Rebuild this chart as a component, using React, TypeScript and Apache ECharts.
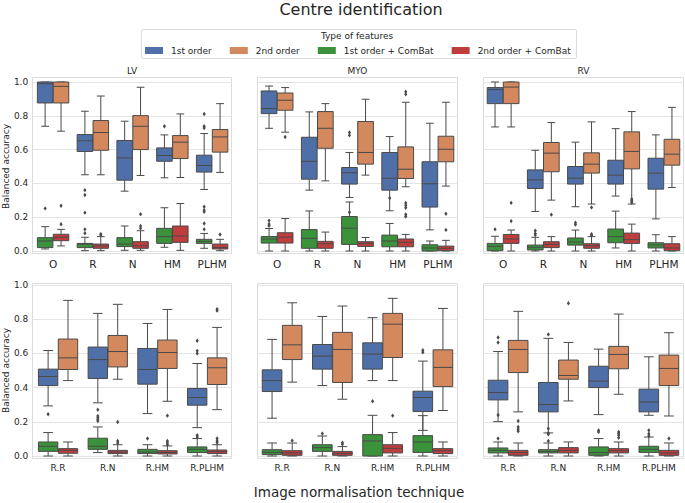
import React, { useEffect, useRef } from 'react';
import * as echarts from 'echarts';

// ---------- categories / labels ----------
const TOP_CATEGORIES = ['O', 'R', 'N', 'HM', 'PLHM'];
const BOTTOM_CATEGORIES = ['R.R', 'R.N', 'R.HM', 'R.PLHM'];
const PANEL_TITLES = ['LV', 'MYO', 'RV'];
const SERIES_NAMES = ['1st order', '2nd order', '1st order + ComBat', '2nd order + ComBat'];

// ---------- box stats: [min, q1, median, q3, max] per category ----------
// Top row – LV
const lvTop1st = [[0.738, 0.876, 0.99, 1.0, 1.0], [0.451, 0.589, 0.652, 0.689, 0.827], [0.354, 0.419, 0.551, 0.654, 0.768], [0.433, 0.531, 0.565, 0.61, 0.687], [0.364, 0.467, 0.506, 0.567, 0.695]];
const lvTop2nd = [[0.709, 0.876, 0.974, 1.0, 1.0], [0.451, 0.596, 0.701, 0.772, 0.917], [0.447, 0.6, 0.738, 0.801, 0.969], [0.435, 0.547, 0.644, 0.683, 0.811], [0.465, 0.585, 0.675, 0.719, 0.872]];
const lvTop1stCb = [[0.012, 0.02, 0.059, 0.079, 0.144], [0.002, 0.02, 0.04, 0.045, 0.081], [0.004, 0.026, 0.041, 0.079, 0.148], [0.022, 0.045, 0.085, 0.134, 0.256], [0.016, 0.045, 0.057, 0.069, 0.104]];
const lvTop2ndCb = [[0.03, 0.061, 0.081, 0.099, 0.128], [0.002, 0.016, 0.03, 0.041, 0.085], [0.004, 0.016, 0.031, 0.055, 0.12], [0.004, 0.051, 0.089, 0.148, 0.281], [0.002, 0.012, 0.02, 0.041, 0.069]];
// Top row – MYO
const myoTop1st = [[0.726, 0.813, 0.843, 0.947, 0.976], [0.36, 0.425, 0.531, 0.673, 0.823], [0.317, 0.396, 0.463, 0.494, 0.583], [0.238, 0.36, 0.431, 0.583, 0.677], [0.125, 0.26, 0.398, 0.528, 0.756]];
const myoTop2nd = [[0.703, 0.833, 0.892, 0.935, 0.967], [0.415, 0.608, 0.726, 0.825, 0.872], [0.449, 0.514, 0.583, 0.766, 0.898], [0.38, 0.429, 0.484, 0.616, 0.88], [0.384, 0.528, 0.602, 0.679, 0.88]];
const myoTop1stCb = [[0.0, 0.047, 0.071, 0.086, 0.133], [0.0, 0.016, 0.075, 0.127, 0.237], [0.0, 0.039, 0.135, 0.204, 0.29], [0.0, 0.025, 0.059, 0.094, 0.163], [0.0, 0.0, 0.018, 0.037, 0.059]];
const myoTop2ndCb = [[0.0, 0.047, 0.082, 0.108, 0.192], [0.0, 0.016, 0.043, 0.057, 0.112], [0.0, 0.027, 0.045, 0.055, 0.08], [0.0, 0.025, 0.051, 0.071, 0.098], [0.0, 0.002, 0.016, 0.029, 0.063]];
// Top row – RV
const rvTop1st = [[0.734, 0.872, 0.955, 0.967, 1.0], [0.234, 0.37, 0.421, 0.48, 0.596], [0.262, 0.396, 0.431, 0.5, 0.644], [0.325, 0.396, 0.449, 0.537, 0.724], [0.19, 0.366, 0.461, 0.549, 0.687]];
const rvTop2nd = [[0.734, 0.872, 0.97, 1.0, 1.0], [0.301, 0.469, 0.579, 0.642, 0.76], [0.278, 0.461, 0.514, 0.581, 0.764], [0.278, 0.486, 0.589, 0.705, 0.825], [0.376, 0.508, 0.573, 0.661, 0.85]];
const rvTop1stCb = [[0.0, 0.002, 0.028, 0.045, 0.087], [0.0, 0.006, 0.022, 0.035, 0.081], [0.0, 0.035, 0.053, 0.077, 0.124], [0.018, 0.049, 0.085, 0.13, 0.236], [0.0, 0.018, 0.035, 0.049, 0.096]];
const rvTop2ndCb = [[0.0, 0.045, 0.071, 0.098, 0.124], [0.0, 0.02, 0.039, 0.055, 0.085], [0.0, 0.016, 0.031, 0.043, 0.085], [0.0, 0.045, 0.067, 0.106, 0.159], [0.0, 0.002, 0.018, 0.043, 0.085]];
// Bottom row – LV
const lvBot1st = [[0.293, 0.412, 0.465, 0.508, 0.617], [0.311, 0.453, 0.564, 0.637, 0.834], [0.248, 0.42, 0.506, 0.629, 0.775], [0.166, 0.297, 0.342, 0.395, 0.541]];
const lvBot2nd = [[0.441, 0.506, 0.574, 0.684, 0.91], [0.449, 0.521, 0.611, 0.705, 0.887], [0.32, 0.512, 0.605, 0.678, 0.857], [0.271, 0.418, 0.516, 0.574, 0.752]];
const lvBot1stCb = [[0.0, 0.027, 0.057, 0.082, 0.137], [0.02, 0.039, 0.057, 0.104, 0.17], [0.0, 0.014, 0.023, 0.039, 0.066], [0.0, 0.02, 0.039, 0.053, 0.102]];
const lvBot2ndCb = [[0.0, 0.016, 0.033, 0.043, 0.082], [0.0, 0.014, 0.023, 0.033, 0.066], [0.0, 0.012, 0.021, 0.031, 0.059], [0.0, 0.014, 0.025, 0.035, 0.066]];
// Bottom row – MYO
const myoBot1st = [[0.221, 0.377, 0.441, 0.504, 0.682], [0.412, 0.508, 0.584, 0.652, 0.816], [0.441, 0.508, 0.596, 0.662, 0.809], [0.15, 0.26, 0.342, 0.379, 0.555]];
const myoBot2nd = [[0.432, 0.564, 0.65, 0.764, 0.896], [0.332, 0.43, 0.623, 0.723, 0.877], [0.441, 0.576, 0.771, 0.834, 0.922], [0.266, 0.406, 0.518, 0.621, 0.863]];
const myoBot1stCb = [[0.0, 0.008, 0.021, 0.037, 0.076], [0.0, 0.027, 0.049, 0.066, 0.117], [0.0, 0.0, 0.088, 0.125, 0.238], [0.0, 0.021, 0.082, 0.119, 0.236]];
const myoBot2ndCb = [[0.0, 0.004, 0.018, 0.031, 0.076], [0.0, 0.004, 0.016, 0.027, 0.055], [0.0, 0.018, 0.045, 0.066, 0.137], [0.0, 0.014, 0.031, 0.043, 0.082]];
// Bottom row – RV
const rvBot1st = [[0.201, 0.328, 0.371, 0.443, 0.611], [0.135, 0.258, 0.301, 0.43, 0.688], [0.242, 0.4, 0.438, 0.525, 0.625], [0.238, 0.258, 0.316, 0.391, 0.58]];
const rvBot2nd = [[0.258, 0.488, 0.623, 0.676, 0.846], [0.322, 0.449, 0.471, 0.561, 0.664], [0.361, 0.51, 0.594, 0.641, 0.83], [0.234, 0.412, 0.512, 0.59, 0.721]];
const rvBot1stCb = [[0.0, 0.018, 0.033, 0.047, 0.082], [0.0, 0.018, 0.027, 0.037, 0.076], [0.0, 0.004, 0.02, 0.053, 0.102], [0.0, 0.021, 0.039, 0.057, 0.111]];
const rvBot2ndCb = [[0.0, 0.004, 0.02, 0.033, 0.076], [0.0, 0.018, 0.033, 0.049, 0.082], [0.0, 0.018, 0.031, 0.043, 0.082], [0.0, 0.004, 0.018, 0.033, 0.076]];

// ---------- outliers: [category index, value] ----------
const lvTop1stOut = [[3, 0.738], [4, 0.811], [4, 0.738], [4, 0.728]];
const lvTop2ndOut: number[][] = [];
const lvTop1stCbOut = [[0, 0.252], [1, 0.36], [1, 0.331], [1, 0.227], [1, 0.128], [1, 0.105], [4, 0.262], [4, 0.242], [4, 0.232], [4, 0.163], [4, 0.128]];
const lvTop2ndCbOut = [[0, 0.268], [0, 0.158], [1, 0.1], [1, 0.094], [2, 0.218], [2, 0.148], [2, 0.134], [4, 0.098]];
const myoTop1stOut = [[2, 0.701], [2, 0.685], [2, 0.229], [3, 0.313]];
const myoTop2ndOut = [[0, 0.675], [3, 0.943], [3, 0.927]];
const myoTop1stCbOut = [[0, 0.18], [0, 0.16], [0, 0.149]];
const myoTop2ndCbOut = [[3, 0.284], [3, 0.27], [3, 0.256], [3, 0.216], [3, 0.204], [4, 0.22], [4, 0.125]];
const rvTop1stOut: number[][] = [];
const rvTop2ndOut = [[2, 0.258]];
const rvTop1stCbOut = [[0, 0.128], [1, 0.12], [1, 0.104], [1, 0.094], [2, 0.167], [2, 0.156]];
const rvTop2ndCbOut = [[0, 0.285], [0, 0.177], [1, 0.215], [2, 0.1], [2, 0.093], [3, 0.307], [3, 0.297], [3, 0.287]];
const lvBot1stOut = [[0, 0.244], [3, 0.674], [3, 0.615], [3, 0.6]];
const lvBot2ndOut = [[2, 0.236], [3, 0.859], [3, 0.85]];
const lvBot1stCbOut = [[1, 0.271], [1, 0.234], [1, 0.223], [1, 0.213], [1, 0.205], [2, 0.102], [3, 0.121], [3, 0.111]];
const lvBot2ndCbOut = [[1, 0.199], [1, 0.088], [1, 0.076], [2, 0.088], [2, 0.076], [2, 0.066], [3, 0.102], [3, 0.088], [3, 0.078]];
const myoBot1stOut = [[3, 0.619], [3, 0.607]];
const myoBot2ndOut: number[][] = [];
const myoBot1stCbOut = [[1, 0.131], [2, 0.32]];
const myoBot2ndCbOut = [[0, 0.09], [1, 0.078], [1, 0.068], [2, 0.236]];
const rvBot1stOut = [[0, 0.693], [0, 0.664], [1, 0.711]];
const rvBot2ndOut = [[1, 0.893]];
const rvBot1stCbOut = [[0, 0.24], [0, 0.102], [1, 0.16], [1, 0.135], [1, 0.127], [1, 0.088], [2, 0.15], [2, 0.141], [3, 0.15], [3, 0.13], [3, 0.117]];
const rvBot2ndCbOut = [[0, 0.205], [0, 0.17], [0, 0.156], [0, 0.145], [2, 0.141], [2, 0.131], [2, 0.121], [2, 0.107], [3, 0.102]];

// ---------- styling ----------
const FONT = 'DejaVu Sans';
const TEXT = '#262626';
const COLORS = ['#4f6fa8', '#d3885d', '#3a923a', '#c03d3e'];
const SIDES = [-1, 1, -1, 1];
const EDGE = '#4a4a4a';
const GRIDLINE = '#e4e4e4';

const COL_LEFT = [32, 257, 483];
const COL_WIDTH = [200, 201, 201];
const ROW_TOP = [82, 285];
const ROW_HEIGHT = [169, 171];
const FRAME_TOP = [77, 283];
const FRAME_HEIGHT = [177, 176];

const PANELS = [
  { row: 0, col: 0, cats: TOP_CATEGORIES, boxes: [lvTop1st, lvTop2nd, lvTop1stCb, lvTop2ndCb], outs: [lvTop1stOut, lvTop2ndOut, lvTop1stCbOut, lvTop2ndCbOut] },
  { row: 0, col: 1, cats: TOP_CATEGORIES, boxes: [myoTop1st, myoTop2nd, myoTop1stCb, myoTop2ndCb], outs: [myoTop1stOut, myoTop2ndOut, myoTop1stCbOut, myoTop2ndCbOut] },
  { row: 0, col: 2, cats: TOP_CATEGORIES, boxes: [rvTop1st, rvTop2nd, rvTop1stCb, rvTop2ndCb], outs: [rvTop1stOut, rvTop2ndOut, rvTop1stCbOut, rvTop2ndCbOut] },
  { row: 1, col: 0, cats: BOTTOM_CATEGORIES, boxes: [lvBot1st, lvBot2nd, lvBot1stCb, lvBot2ndCb], outs: [lvBot1stOut, lvBot2ndOut, lvBot1stCbOut, lvBot2ndCbOut] },
  { row: 1, col: 1, cats: BOTTOM_CATEGORIES, boxes: [myoBot1st, myoBot2nd, myoBot1stCb, myoBot2ndCb], outs: [myoBot1stOut, myoBot2ndOut, myoBot1stCbOut, myoBot2ndCbOut] },
  { row: 1, col: 2, cats: BOTTOM_CATEGORIES, boxes: [rvBot1st, rvBot2nd, rvBot1stCb, rvBot2ndCb], outs: [rvBot1stOut, rvBot2ndOut, rvBot1stCbOut, rvBot2ndCbOut] },
];

function boxRenderer(side: number, color: string) {
  return (_params: any, api: any) => {
    const cat = api.value(0);
    const band = api.size([1, 0])[0];
    const cx = api.coord([cat, 0])[0] + side * band * 0.2;
    const w = band * 0.39;
    const y = (i: number) => api.coord([cat, api.value(i)])[1];
    const yMin = y(1), yQ1 = y(2), yMed = y(3), yQ3 = y(4), yMax = y(5);
    const ls = { stroke: EDGE, lineWidth: 1 };
    return {
      type: 'group',
      children: [
        { type: 'line', shape: { x1: cx, y1: yQ1, x2: cx, y2: yMin }, style: ls },
        { type: 'line', shape: { x1: cx, y1: yQ3, x2: cx, y2: yMax }, style: ls },
        { type: 'line', shape: { x1: cx - w / 4, y1: yMin, x2: cx + w / 4, y2: yMin }, style: ls },
        { type: 'line', shape: { x1: cx - w / 4, y1: yMax, x2: cx + w / 4, y2: yMax }, style: ls },
        { type: 'rect', shape: { x: cx - w / 2, y: yQ3, width: w, height: Math.max(yQ1 - yQ3, 0.5) }, style: { fill: color, stroke: EDGE, lineWidth: 1 } },
        { type: 'line', shape: { x1: cx - w / 2, y1: yMed, x2: cx + w / 2, y2: yMed }, style: ls },
      ],
    };
  };
}

function outlierRenderer(side: number) {
  return (_params: any, api: any) => {
    const cat = api.value(0);
    const band = api.size([1, 0])[0];
    const p = api.coord([cat, api.value(1)]);
    const cx = p[0] + side * band * 0.2;
    const cy = p[1];
    return {
      type: 'polygon',
      shape: { points: [[cx, cy - 2.2], [cx + 1.6, cy], [cx, cy + 2.2], [cx - 1.6, cy]] },
      style: { fill: EDGE },
    };
  };
}

function buildOption() {
  const grid: any[] = [];
  const xAxis: any[] = [];
  const yAxis: any[] = [];
  const series: any[] = [];
  const graphic: any[] = [];

  PANELS.forEach((panel, p) => {
    const { row, col } = panel;
    grid.push({ left: COL_LEFT[col], width: COL_WIDTH[col], top: ROW_TOP[row], height: ROW_HEIGHT[row], containLabel: false });
    xAxis.push({
      type: 'category',
      gridIndex: p,
      data: panel.cats,
      axisLine: { show: false },
      axisTick: { show: false },
      splitLine: { show: false },
      axisLabel: { fontSize: row === 0 ? 10.5 : 9, color: TEXT, fontFamily: FONT, margin: row === 0 ? 7 : 7 },
    });
    yAxis.push({
      type: 'value',
      gridIndex: p,
      min: 0,
      max: 1,
      interval: 0.2,
      axisLine: { show: false },
      axisTick: { show: false },
      splitLine: { lineStyle: { color: GRIDLINE, width: 1 } },
      axisLabel: col === 0
        ? { show: true, fontSize: 9, color: TEXT, fontFamily: FONT, margin: 5, formatter: (v: number) => v.toFixed(1) }
        : { show: false },
      name: col === 0 ? 'Balanced accuracy' : '',
      nameLocation: 'middle',
      nameGap: 21,
      nameTextStyle: { fontSize: 9, color: TEXT, fontFamily: FONT },
    });
    graphic.push({
      type: 'rect',
      silent: true,
      z: -10,
      shape: { x: COL_LEFT[col] + 0.5, y: FRAME_TOP[row] + 0.5, width: COL_WIDTH[col] - 1, height: FRAME_HEIGHT[row] - 1 },
      style: { fill: 'none', stroke: '#dcdcdc', lineWidth: 1 },
    });
    for (let h = 0; h < 4; h++) {
      series.push({
        type: 'custom',
        name: SERIES_NAMES[h],
        xAxisIndex: p,
        yAxisIndex: p,
        itemStyle: { color: COLORS[h] },
        renderItem: boxRenderer(SIDES[h], COLORS[h]),
        encode: { x: 0, y: [1, 2, 3, 4, 5] },
        data: panel.boxes[h].map((b, i) => [i, ...b]),
        z: 2,
      });
    }
    for (let h = 0; h < 4; h++) {
      series.push({
        type: 'custom',
        name: SERIES_NAMES[h] + ' outliers',
        xAxisIndex: p,
        yAxisIndex: p,
        itemStyle: { color: EDGE },
        renderItem: outlierRenderer(SIDES[h]),
        encode: { x: 0, y: 1 },
        data: panel.outs[h],
        z: 3,
      });
    }
  });

  graphic.push({
    type: 'rect',
    silent: true,
    z: -10,
    shape: { x: 141.5, y: 29.5, width: 435, height: 29, r: 2 },
    style: { fill: '#ffffff', stroke: '#dcdcdc', lineWidth: 1 },
  });

  const titleStyle = (size: number) => ({ fontSize: size, fontWeight: 'normal', color: TEXT, fontFamily: FONT });

  return {
    animation: false,
    backgroundColor: '#ffffff',
    textStyle: { fontFamily: FONT },
    title: [
      { text: 'Centre identification', left: 361, top: 1, textAlign: 'center', padding: 0, textStyle: titleStyle(16) },
      { text: 'Type of features', left: 357, top: 31, textAlign: 'center', padding: 0, textStyle: titleStyle(9) },
      ...PANEL_TITLES.map((t, c) => ({
        text: t, left: COL_LEFT[c] + COL_WIDTH[c] / 2, top: 66, textAlign: 'center', padding: 0, textStyle: titleStyle(9),
      })),
      { text: 'Image normalisation technique', left: 359, top: 485, textAlign: 'center', padding: 0, textStyle: titleStyle(13.5) },
    ],
    legend: {
      data: SERIES_NAMES,
      left: 145,
      top: 46,
      padding: 0,
      orient: 'horizontal',
      icon: 'rect',
      itemWidth: 18,
      itemHeight: 7,
      itemGap: 18,
      selectedMode: false,
      itemStyle: { borderWidth: 0 },
      textStyle: { fontSize: 9, color: TEXT, fontFamily: FONT, padding: [0, 0, 0, 3] },
    },
    grid,
    xAxis,
    yAxis,
    series,
    graphic,
  };
}

export default function App() {
  const ref = useRef<HTMLDivElement>(null);
  useEffect(() => {
    if (!ref.current) return;
    const chart = echarts.init(ref.current, undefined, { renderer: 'svg' });
    chart.setOption(buildOption() as any);
    return () => chart.dispose();
  }, []);
  return <div ref={ref} style={{ position: 'fixed', left: 0, top: 0, width: 685, height: 503 }} />;
}
